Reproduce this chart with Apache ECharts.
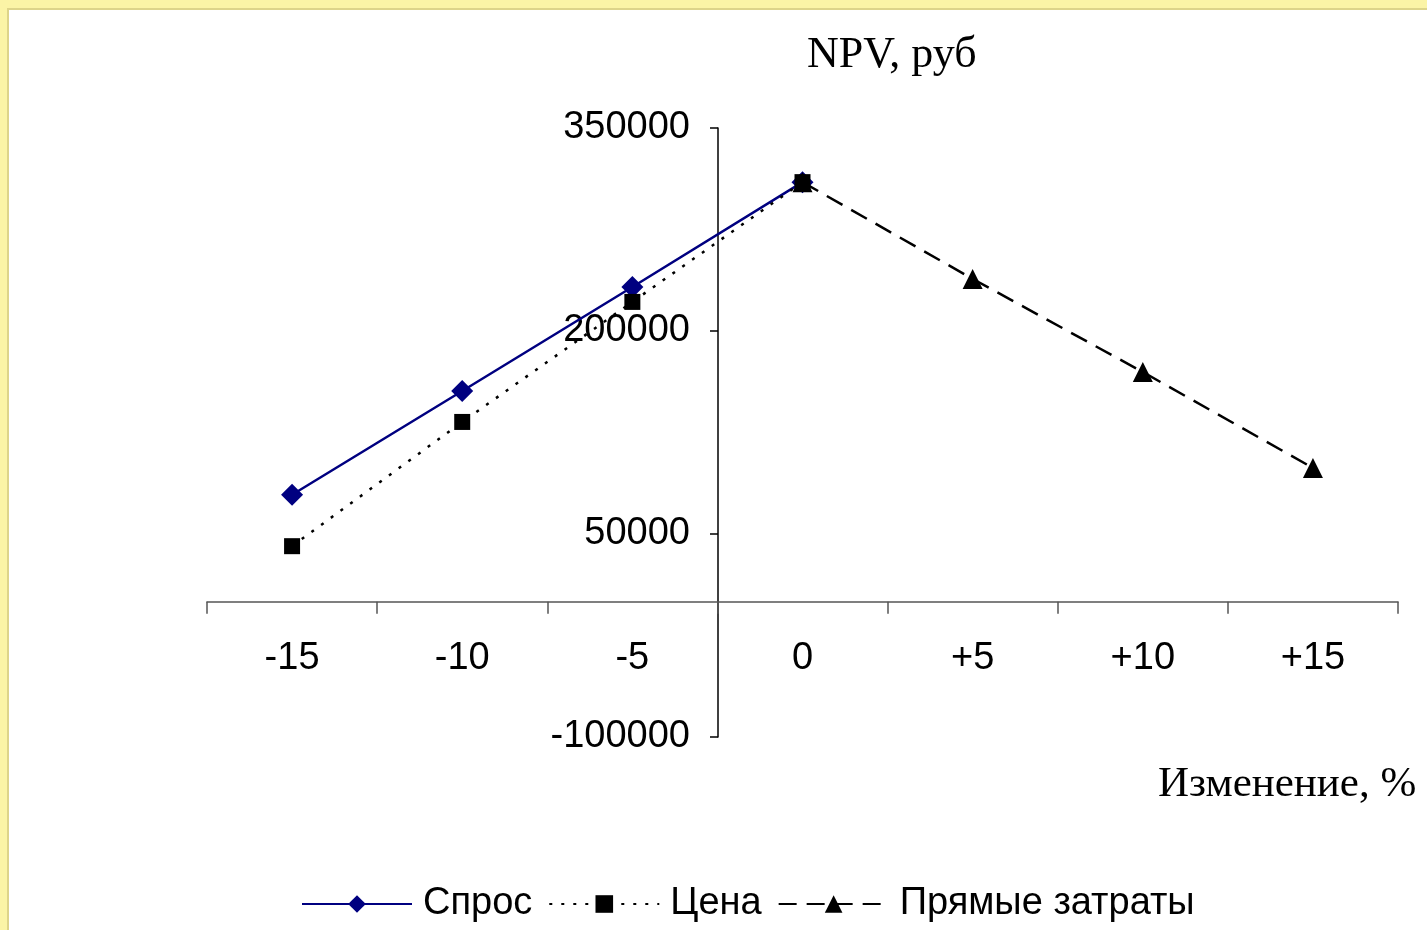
<!DOCTYPE html>
<html>
<head>
<meta charset="utf-8">
<script src="https://cdn.jsdelivr.net/npm/echarts@6/dist/echarts.min.js"></script>
<style>
  html, body { margin: 0; padding: 0; background: #fbf4a6; }
  .panel {
    position: absolute; left: 7px; top: 8px; width: 1418px; height: 922px;
    background: #fff; border-left: 2px solid #ddd48a; border-top: 2px solid #ddd48a;
  }
  #chartsId { position: absolute; left: 0; top: 0; width: 1427px; height: 930px; }
</style>
</head>
<body>
<div class="panel"></div>
<div id="chartsId"></div>
<script>
  const categories = ['-15', '-10', '-5', '0', '+5', '+10', '+15']
  const demand = [79000, 155700, 232500, 310000, null, null, null]
  const price = [41000, 132800, 221500, 310000, null, null, null]
  const directCosts = [null, null, null, 310000, 238500, 169700, 98800]
  const yTicks = [-100000, 50000, 200000, 350000]

  const sans = '"Liberation Sans", Arial, sans-serif'
  const serif = '"Liberation Serif", "Times New Roman", serif'

  const myChart = echarts.init(document.getElementById('chartsId'))
  const option = {
    backgroundColor: 'transparent',
    animation: false,
    grid: { left: 207, right: 29, top: 128, bottom: 193 },
    graphic: [
      {
        type: 'text', left: 807, top: 33,
        style: { text: 'NPV, руб', font: '44px ' + serif, fill: '#000' },
      },
      {
        type: 'text', left: 1158, top: 763,
        style: { text: 'Изменение, %', font: '43px ' + serif, fill: '#000' },
      },
    ],
    legend: {
      left: 296,
      top: 880,
      itemWidth: 110,
      itemHeight: 22,
      itemGap: 16,
      textStyle: { fontFamily: sans, fontSize: 38, color: '#000', padding: [0, 0, 0, 6] },
      data: ['Спрос', 'Цена', 'Прямые затраты'],
    },
    xAxis: {
      type: 'category',
      data: categories,
      boundaryGap: true,
      axisLine: { onZero: true, lineStyle: { color: '#555', width: 1.5 } },
      axisTick: { show: true, length: 12, inside: false, lineStyle: { color: '#555', width: 1.5 } },
      // labels sit under the zero line, not at the grid bottom
      axisLabel: { fontFamily: sans, fontSize: 38, color: '#000', margin: -97 },
      splitLine: { show: false },
    },
    yAxis: {
      type: 'value',
      min: yTicks[0],
      max: yTicks[yTicks.length - 1],
      interval: 150000,
      offset: -511, // y axis crosses between "-5" and "0"
      axisLine: { show: true, onZero: false, lineStyle: { color: '#000', width: 1.5 } },
      axisTick: { show: true, length: 8, lineStyle: { color: '#000', width: 1.5 } },
      axisLabel: {
        fontFamily: sans, fontSize: 38, color: '#000', margin: 28,
        formatter: (v) => String(v),
      },
      splitLine: { show: false },
    },
    series: [
      {
        name: 'Спрос',
        type: 'line',
        data: demand,
        color: '#000080',
        symbol: 'diamond',
        symbolSize: 22,
        lineStyle: { color: '#000080', width: 2.5, type: 'solid' },
        itemStyle: { color: '#000080' },
        z: 2,
      },
      {
        name: 'Цена',
        type: 'line',
        data: price,
        color: '#000',
        symbol: 'rect',
        symbolSize: 16,
        lineStyle: { color: '#000', width: 2.5, type: [3, 9] },
        itemStyle: { color: '#000' },
        z: 4,
      },
      {
        name: 'Прямые затраты',
        type: 'line',
        data: directCosts,
        color: '#000',
        symbol: 'triangle',
        symbolSize: 20,
        lineStyle: { color: '#000', width: 2.5, type: [18, 10] },
        itemStyle: { color: '#000' },
        z: 3,
      },
    ],
  }
  myChart.setOption(option)
</script>
</body>
</html>
